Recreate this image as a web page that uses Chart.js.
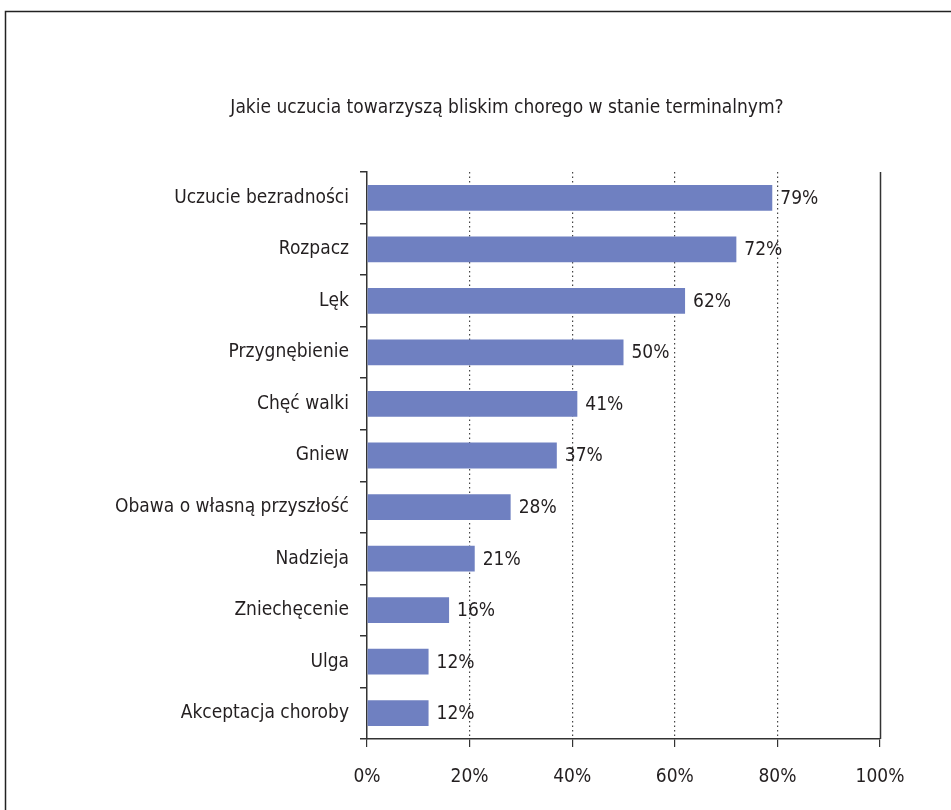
<!DOCTYPE html>
<html>
<head>
<meta charset="utf-8">
<script src="https://cdn.jsdelivr.net/npm/chart.js@4/dist/chart.umd.min.js"></script>
<style>
  html, body { margin: 0; padding: 0; background: #fff; }
  #wrap { width: 951px; height: 810px; position: relative; }
</style>
</head>
<body>
<div id="wrap"><canvas id="c" width="951" height="810"></canvas></div>
<script>
const titleText = "Jakie uczucia towarzyszą bliskim chorego w stanie terminalnym?";
const categories = [
  "Uczucie bezradności",
  "Rozpacz",
  "Lęk",
  "Przygnębienie",
  "Chęć walki",
  "Gniew",
  "Obawa o własną przyszłość",
  "Nadzieja",
  "Zniechęcenie",
  "Ulga",
  "Akceptacja choroby"
];
const values = [79, 72, 62, 50, 41, 37, 28, 21, 16, 12, 12];
const xTicks = [0, 20, 40, 60, 80, 100];

const FONT = "'DejaVu Sans Condensed', 'Liberation Sans Narrow', sans-serif";
const FSIZE = 19;
const TEXT = '#231f20';
const LINE = '#333333';

const framePlugin = {
  id: 'frame',
  beforeDraw(chart) {
    const ctx = chart.ctx;
    ctx.save();
    ctx.fillStyle = '#fff';
    ctx.fillRect(0, 0, chart.width, chart.height);
    ctx.strokeStyle = '#222';
    ctx.lineWidth = 1.5;
    ctx.beginPath();
    ctx.moveTo(5.5, chart.height);
    ctx.lineTo(5.5, 11.5);
    ctx.lineTo(chart.width, 11.5);
    ctx.stroke();
    ctx.restore();
  },
  afterDatasetsDraw(chart) {
    const ctx = chart.ctx;
    const xs = chart.scales.x;
    const area = chart.chartArea;
    ctx.save();
    ctx.strokeStyle = LINE;
    ctx.lineWidth = 1.5;
    const xr = Math.round(xs.getPixelForValue(100)) + 0.5;
    ctx.beginPath();
    ctx.moveTo(xr, area.top);
    ctx.lineTo(xr, area.bottom);
    ctx.stroke();
    const meta = chart.getDatasetMeta(0);
    ctx.fillStyle = TEXT;
    ctx.font = FSIZE + 'px ' + FONT;
    ctx.textAlign = 'left';
    ctx.textBaseline = 'middle';
    meta.data.forEach((bar, i) => {
      ctx.fillText(values[i] + '%', bar.x + 8, bar.y + 1);
    });
    ctx.restore();
  }
};

new Chart(document.getElementById('c'), {
  type: 'bar',
  data: {
    labels: categories,
    datasets: [{
      data: values,
      backgroundColor: '#6f80c1',
      borderWidth: 0,
      categoryPercentage: 1,
      barPercentage: 0.5
    }]
  },
  options: {
    indexAxis: 'y',
    responsive: false,
    animation: false,
    devicePixelRatio: 1,
    layout: { padding: { left: 63, right: 0, top: 0, bottom: 0 } },
    plugins: {
      legend: { display: false },
      tooltip: { enabled: false },
      title: {
        display: true,
        text: titleText,
        color: TEXT,
        font: { family: FONT, size: FSIZE, weight: 'normal', lineHeight: 1.2 },
        padding: { top: 97, bottom: 52.2 }
      }
    },
    scales: {
      x: {
        min: 0,
        max: 100,
        afterBuildTicks(scale) { scale.ticks = xTicks.map(v => ({ value: v })); },
        afterFit(scale) { scale.height = 71; },
        ticks: {
          color: TEXT,
          font: { family: FONT, size: FSIZE },
          padding: 19,
          callback: v => v + '%'
        },
        grid: {
          color: ctx => (ctx.tick && (ctx.tick.value === 0 || ctx.tick.value === 100)) ? 'rgba(0,0,0,0)' : '#444',
          lineWidth: 1.2,
          tickColor: LINE,
          tickLength: 8,
          tickBorderDash: [],
          drawTicks: true
        },
        border: { display: true, color: LINE, width: 1.5, dash: [1.5, 3] }
      },
      y: {
        afterFit(scale) { scale.width = 304; },
        ticks: {
          color: TEXT,
          font: { family: FONT, size: FSIZE },
          padding: 11
        },
        grid: {
          offset: true,
          drawOnChartArea: false,
          tickColor: LINE,
          tickLength: 7,
          lineWidth: 1.5
        },
        border: { display: true, color: LINE, width: 1.5 }
      },
      yRight: {
        type: 'linear',
        axis: 'y',
        position: 'right',
        display: true,
        afterFit(scale) { scale.width = 71; },
        ticks: { display: false },
        grid: { display: false, drawTicks: false },
        border: { display: false }
      }
    }
  },
  plugins: [framePlugin]
});
</script>
</body>
</html>
